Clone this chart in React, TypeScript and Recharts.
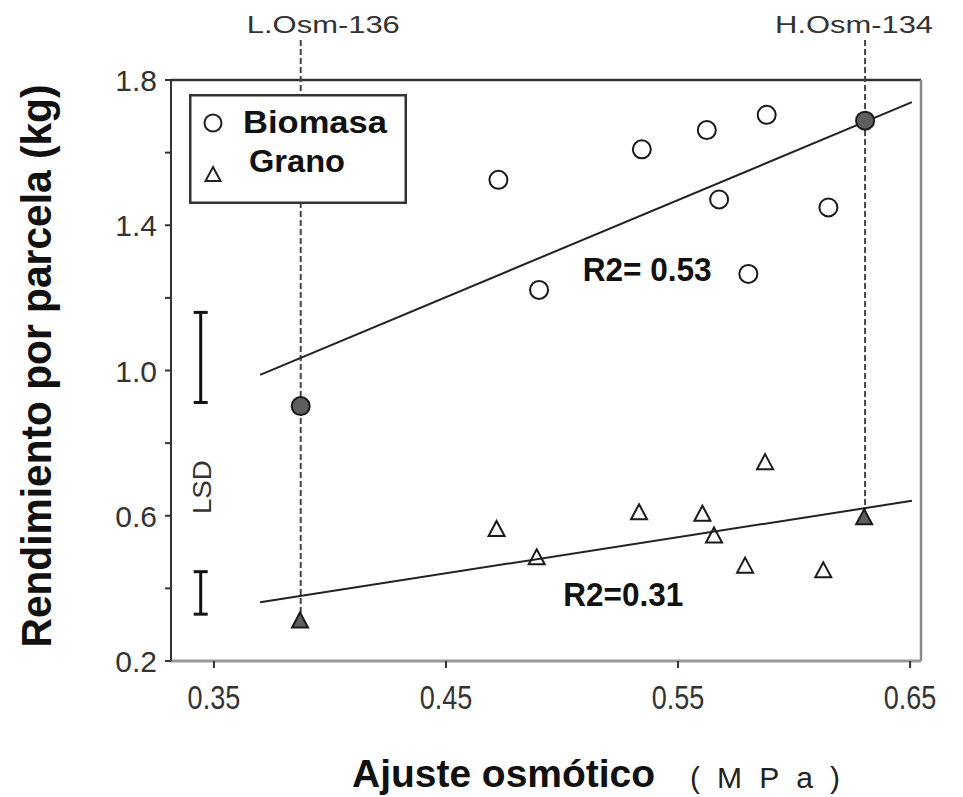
import React from 'react';
import {
  ScatterChart,
  Scatter,
  XAxis,
  YAxis,
  ReferenceLine,
  ReferenceDot,
  Legend,
  ErrorBar,
} from 'recharts';

// ---------- data ----------
const biomasaX = [0.3874, 0.4726, 0.4901, 0.5344, 0.5624, 0.5677, 0.5803, 0.5882, 0.6148, 0.6306];
const biomasaY = [0.902, 1.525, 1.222, 1.609, 1.662, 1.471, 1.266, 1.704, 1.449, 1.688];
const granoX = [0.3871, 0.4718, 0.4891, 0.5332, 0.5605, 0.5655, 0.5789, 0.5875, 0.6126, 0.6302];
const granoY = [0.313, 0.565, 0.487, 0.611, 0.607, 0.547, 0.464, 0.749, 0.451, 0.597];
const highlighted = [true, false, false, false, false, false, false, false, false, true];

const biomasaFit = [
  { x: 0.3699, y: 0.988 },
  { x: 0.6508, y: 1.739 },
];
const granoFit = [
  { x: 0.3699, y: 0.362 },
  { x: 0.6508, y: 0.641 },
];

const genotypeNames = ['L.Osm-136', 'H.Osm-134'];
const genotypeX = [0.3874, 0.6306];
const genotypeLow = [0.313, 0.597];
const guideTop = 1.91;

const lsdX = 0.3443;
const lsdMid = [1.036, 0.3875];
const lsdHalf = [0.124, 0.0585];

const r2Texts = ['R2= 0.53', 'R2=0.31'];
const r2X = [0.5367, 0.5264];
const r2Y = [1.246, 0.351];

const xTicks = [0.35, 0.45, 0.55, 0.65];
const yTicks = [0.2, 0.4, 0.6, 0.8, 1.0, 1.2, 1.4, 1.6, 1.8];
const yLabeled = [0.2, 0.6, 1.0, 1.4, 1.8];
const X_DOMAIN: [number, number] = [0.3315, 0.6547];
const Y_DOMAIN: [number, number] = [0.2, 1.8];

// ---------- derived tables ----------
const biomasaData = biomasaX.map((x, i) => ({ x, y: biomasaY[i], hl: highlighted[i] }));
const granoData = granoX.map((x, i) => ({ x, y: granoY[i], hl: highlighted[i] }));
const lsdData = lsdMid.map((m, i) => ({ x: lsdX, y: m, err: lsdHalf[i] }));

const FONT = '"Liberation Sans", Arial, Helvetica, sans-serif';

// label layout (offsets / sizes only)
const genoLabelDx = [22.6, -11];
const genoLabelLen = [153, 158];
const r2Len = [129, 120];

const CircleShape = (p: any) => {
  const { cx, cy, payload } = p;
  return (
    <circle
      cx={cx}
      cy={cy}
      r={9}
      fill={payload && payload.hl ? '#5e5e5e' : 'none'}
      stroke="#1a1a1a"
      strokeWidth={2}
    />
  );
};

const triPath = (cx: number, cy: number, w: number, h: number) =>
  `M${cx},${cy - h / 2} L${cx + w / 2},${cy + h / 2} L${cx - w / 2},${cy + h / 2} Z`;

const TriangleShape = (p: any) => {
  const { cx, cy, payload } = p;
  return (
    <path
      d={triPath(cx, cy, 16, 15)}
      fill={payload && payload.hl ? '#5e5e5e' : 'none'}
      stroke="#1a1a1a"
      strokeWidth={2}
      strokeLinejoin="miter"
    />
  );
};

const EmptyShape = () => <g />;

const YTick = (p: any) => {
  const { x, y, payload } = p;
  const v = payload.value;
  if (!yLabeled.some((t) => Math.abs(t - v) < 1e-6)) return <g />;
  return (
    <text x={x} y={y + 11} textAnchor="end" fontSize={30} fontFamily={FONT} fill="#333">
      {v.toFixed(1)}
    </text>
  );
};

const XTick = (p: any) => {
  const { x, y, payload } = p;
  return (
    <g transform={`translate(${x},${y + 39}) scale(0.82,1)`}>
      <text x={0} y={0} textAnchor="middle" fontSize={33} fontFamily={FONT} fill="#333">
        {payload.value.toFixed(2)}
      </text>
    </g>
  );
};

const YTitle = () => (
  <text
    x={51}
    y={366}
    transform="rotate(-90, 51, 366)"
    textAnchor="middle"
    fontSize={42}
    fontWeight="bold"
    fontFamily={FONT}
    fill="#111"
    textLength={563}
    lengthAdjust="spacingAndGlyphs"
  >
    Rendimiento por parcela (kg)
  </text>
);

const XTitle = () => (
  <g>
    <text
      x={352}
      y={787}
      fontSize={38}
      fontWeight="bold"
      fontFamily={FONT}
      fill="#111"
      textLength={303}
      lengthAdjust="spacingAndGlyphs"
    >
      Ajuste osmótico
    </text>
    <text
      x={690}
      y={788}
      fontSize={30}
      fontFamily={FONT}
      fill="#222"
      textLength={150}
      lengthAdjust="spacing"
    >
      (MPa)
    </text>
  </g>
);

const LegendBox = () => (
  <svg width={218} height={110} style={{ display: 'block' }}>
    <rect x={1.25} y={1.25} width={215.5} height={107.5} fill="white" stroke="#333" strokeWidth={2.5} />
    <circle cx={24} cy={29} r={8.5} fill="none" stroke="#222" strokeWidth={2} />
    <text
      x={54}
      y={39}
      fontSize={31}
      fontWeight="bold"
      fontFamily={FONT}
      fill="#111"
      textLength={144}
      lengthAdjust="spacingAndGlyphs"
    >
      Biomasa
    </text>
    <path d={triPath(24, 80, 15, 14)} fill="none" stroke="#222" strokeWidth={2} />
    <text
      x={60}
      y={78}
      fontSize={31}
      fontWeight="bold"
      fontFamily={FONT}
      fill="#111"
      textLength={96}
      lengthAdjust="spacingAndGlyphs"
    >
      Grano
    </text>
  </svg>
);

export default function App() {
  return (
    <div style={{ position: 'absolute', left: 0, top: 0, background: '#fff' }}>
      <ScatterChart
        width={963}
        height={797}
        margin={{ top: 80, right: 42, bottom: 0, left: 0 }}
      >
        <XAxis
          type="number"
          dataKey="x"
          domain={X_DOMAIN}
          allowDataOverflow
          ticks={xTicks}
          tick={<XTick />}
          tickSize={7}
          tickMargin={2}
          height={136}
          axisLine={{ stroke: '#999', strokeWidth: 3 }}
          tickLine={{ stroke: '#333', strokeWidth: 2 }}
          label={XTitle}
        />
        <YAxis
          type="number"
          dataKey="y"
          domain={Y_DOMAIN}
          allowDataOverflow
          ticks={yTicks}
          interval={0}
          tick={<YTick />}
          tickSize={6}
          tickMargin={8}
          width={171}
          axisLine={{ stroke: '#333', strokeWidth: 2 }}
          tickLine={{ stroke: '#333', strokeWidth: 2 }}
          label={YTitle}
        />

        {/* frame top & right */}
        <ReferenceLine y={Y_DOMAIN[1]} stroke="#333" strokeWidth={2.5} ifOverflow="visible" />
        <ReferenceLine x={X_DOMAIN[1]} stroke="#888" strokeWidth={2.5} ifOverflow="visible" />

        {/* genotype guide lines */}
        {genotypeNames.map((name, i) => (
          <ReferenceLine
            key={name}
            segment={[
              { x: genotypeX[i], y: guideTop },
              { x: genotypeX[i], y: genotypeLow[i] },
            ]}
            stroke="#444"
            strokeWidth={2}
            strokeDasharray="6 3"
            ifOverflow="visible"
            label={(lp: any) => {
              const vb = lp.viewBox || {};
              return (
                <text
                  x={vb.x + genoLabelDx[i]}
                  y={vb.y - 7}
                  textAnchor="middle"
                  fontSize={24}
                  fontFamily={FONT}
                  fill="#333"
                  textLength={genoLabelLen[i]}
                  lengthAdjust="spacingAndGlyphs"
                >
                  {name}
                </text>
              );
            }}
          />
        ))}

        {/* regression lines */}
        <ReferenceLine segment={biomasaFit} stroke="#222" strokeWidth={2} ifOverflow="visible" />
        <ReferenceLine segment={granoFit} stroke="#222" strokeWidth={2} ifOverflow="visible" />

        {/* R2 labels */}
        {r2Texts.map((t, i) => (
          <ReferenceDot
            key={t}
            x={r2X[i]}
            y={r2Y[i]}
            r={0}
            stroke="none"
            fill="none"
            ifOverflow="visible"
            label={(lp: any) => {
              const vb = lp.viewBox || {};
              return (
                <text
                  x={vb.x}
                  y={vb.y}
                  textAnchor="middle"
                  fontSize={33}
                  fontWeight="bold"
                  fontFamily={FONT}
                  fill="#111"
                  textLength={r2Len[i]}
                  lengthAdjust="spacingAndGlyphs"
                >
                  {t}
                </text>
              );
            }}
          />
        ))}

        {/* LSD bars */}
        <Scatter data={lsdData} shape={EmptyShape} isAnimationActive={false} legendType="none">
          <ErrorBar dataKey="err" direction="y" width={7} stroke="#111" strokeWidth={3} isAnimationActive={false} />
        </Scatter>
        <ReferenceDot
          x={lsdX}
          y={(lsdMid[0] - lsdHalf[0] + lsdMid[1] + lsdHalf[1]) / 2}
          r={0}
          stroke="none"
          fill="none"
          ifOverflow="visible"
          label={(lp: any) => {
            const vb = lp.viewBox || {};
            return (
              <text
                x={vb.x + 10}
                y={vb.y}
                transform={`rotate(-90, ${vb.x + 10}, ${vb.y})`}
                textAnchor="middle"
                fontSize={26}
                fontFamily={FONT}
                fill="#333"
                textLength={54}
                lengthAdjust="spacingAndGlyphs"
              >
                LSD
              </text>
            );
          }}
        />

        <Scatter name="Biomasa" data={biomasaData} shape={CircleShape} isAnimationActive={false} />
        <Scatter name="Grano" data={granoData} shape={TriangleShape} isAnimationActive={false} />

        <Legend
          layout="horizontal"
          align="center"
          verticalAlign="middle"
          content={LegendBox}
          wrapperStyle={{ left: 189, top: 94, width: 218, height: 110, margin: 0, padding: 0 }}
        />
      </ScatterChart>
    </div>
  );
}
